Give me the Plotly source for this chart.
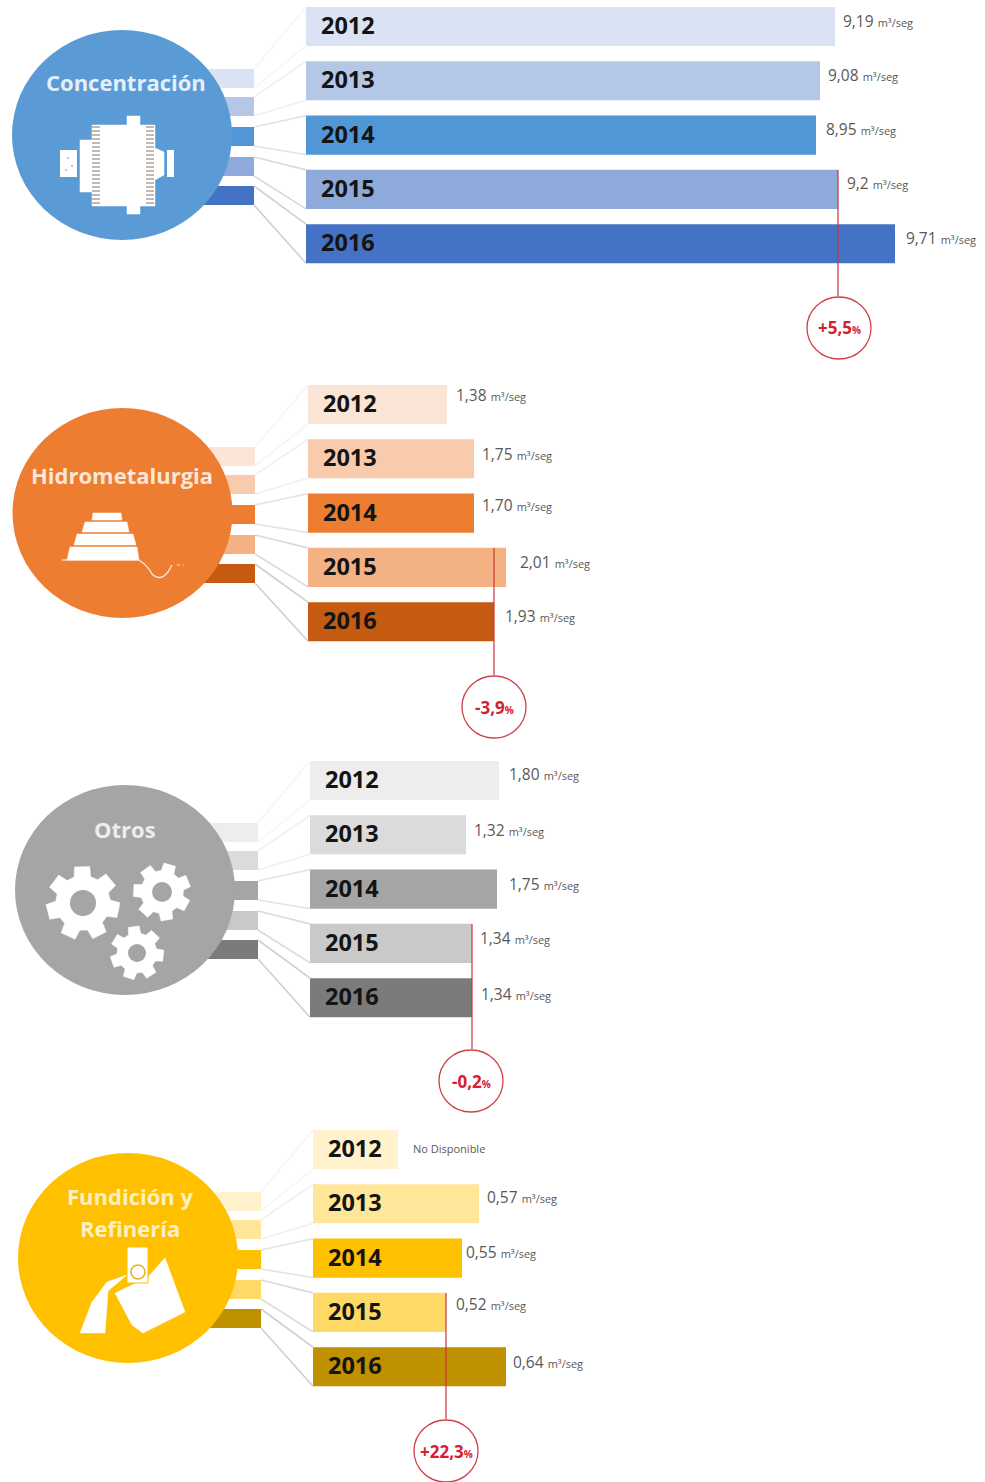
import math
import plotly.graph_objects as go

W, H = 985, 1482

# ---------- data ----------
years = ["2012", "2013", "2014", "2015", "2016"]
sections = ["Concentración", "Hidrometalurgia", "Otros", "Fundición y<br>Refinería"]

concentracion_labels = ["9,19", "9,08", "8,95", "9,2", "9,71"]
hidrometalurgia_labels = ["1,38", "1,75", "1,70", "2,01", "1,93"]
otros_labels = ["1,80", "1,32", "1,75", "1,34", "1,34"]
fundicion_labels = ["No Disponible", "0,57", "0,55", "0,52", "0,64"]

# bar lengths as drawn in the picture (the source bars are not to one scale)
concentracion_bars = [529, 514, 510, 532, 589]
hidrometalurgia_bars = [139, 166, 166, 198, 186]
otros_bars = [189, 156, 187, 162, 162]
fundicion_bars = [85, 166, 149, 133, 193]

changes = ["+5,5", "-3,9", "-0,2", "+22,3"]
callout_bar = [3, 4, 3, 3]  # which bar's end the red line marks

# ---------- styles and layout ----------
unit = "m³/seg"
palettes = [
    ["#DAE3F3", "#B4C7E7", "#5197D6", "#8EAADB", "#4472C4"],
    ["#FBE5D6", "#F8CBAD", "#ED7D31", "#F4B183", "#C55A11"],
    ["#EDEDED", "#DBDBDB", "#A5A5A5", "#C9C9C9", "#7B7B7B"],
    ["#FFF2CC", "#FFE699", "#FFC000", "#FFD966", "#BF9000"],
]
circle_colors = ["#5B9BD5", "#ED7D31", "#A5A5A5", "#FFC000"]
title_colors = ["#E3F0FB", "#FBE6D8", "#EDEDED", "#FFF0C4"]
bars = [concentracion_bars, hidrometalurgia_bars, otros_bars, fundicion_bars]
labels = [concentracion_labels, hidrometalurgia_labels, otros_labels, fundicion_labels]

left = [306, 308, 310, 313]
top = [7, 385, 761, 1130]
pitch, thick = 54.3, 39
stub_off = [62, 90, 120, 150, 179]
stub_h = 19
stub_right = [254, 255, 258, 261]
circles = [(122, 135), (122.5, 513), (125, 890), (128, 1258)]
title_pos = [(126, 82), (122, 475), (125, 829), (130, 1196)]
title_leading = 32
callouts = [(839, 328), (494, 707), (471, 1081), (446, 1451)]
line_tint = ["#F6F6F6", "#F0F0F0", "#E4E4E4", "#DADADA", "#CFCFCF"]
label_gap = [[6, 6, 8, 7, 9], [7, 6, 6, 12, 9], [8, 6, 10, 6, 7], [13, 6, 2, 8, 5]]
label_lift = [[6, 6, 6, 6, 6], [10, 5, 8, 5, 6], [6, 5, 5, 5, 4], [1, 7, 6, 8, 5]]
FONT = "Open Sans, Noto Sans, sans-serif"


def px(x):
    return x / W


def py(y):
    return 1 - y / H


def pshape(kind, x0, y0, x1, y1, **kw):
    return dict(type=kind, xref="paper", yref="paper", x0=px(x0), x1=px(x1),
                y0=py(y0), y1=py(y1), **kw)


def poly(pts, fill="white", line=None):
    d = "M" + "L".join(f"{px(x):.5f},{py(y):.5f}" for x, y in pts) + "Z"
    return dict(type="path", xref="paper", yref="paper", path=d, fillcolor=fill,
                line=dict(color=line or fill, width=0.5))


def gear(cx, cy, R, hole, teeth, phase, bg):
    pts = []
    step = 2 * math.pi / teeth
    r_in = R * 0.74
    for k in range(teeth):
        a = phase + k * step
        for da, r in ((-0.30, r_in), (-0.20, R), (0.20, R), (0.30, r_in)):
            t = a + da * step * 1.15
            pts.append((cx + r * math.cos(t), cy + r * math.sin(t)))
    return [poly(pts), pshape("circle", cx - hole, cy - hole, cx + hole, cy + hole,
                              fillcolor=bg, line=dict(width=0))]


fig = go.Figure()
shapes, annots = [], []
layout_axes = {}

for s in range(4):
    suffix = "" if s == 0 else str(s + 1)
    T = top[s]
    y_start = T - (pitch - thick) / 2
    y_end = y_start + pitch * 5
    clip = max(0, -y_start)
    fig.add_trace(go.Bar(
        x=bars[s], y=years, orientation="h", marker=dict(color=palettes[s], line=dict(width=0)),
        xaxis="x" + suffix, yaxis="y" + suffix, showlegend=False, hoverinfo="skip",
    ))
    layout_axes["xaxis" + suffix] = dict(
        domain=[px(left[s]), 1], range=[0, W - left[s]], visible=False,
        anchor="y" + suffix, fixedrange=True)
    layout_axes["yaxis" + suffix] = dict(
        domain=[py(y_end), py(y_start + clip)], range=[4.5, -0.5 + clip / pitch], type="category",
        categoryorder="array", categoryarray=years, visible=False,
        anchor="x" + suffix, fixedrange=True)

    # stubs and connectors
    for i in range(5):
        st = T + stub_off[i]
        shapes.append(pshape("rect", stub_right[s] - 60, st, stub_right[s], st + stub_h,
                             fillcolor=palettes[s][i], line=dict(width=0), layer="below"))
        bt = T + pitch * i
        for a, b in ((st, bt), (st + stub_h, bt + thick)):
            shapes.append(pshape("line", stub_right[s], a, left[s], b,
                                 line=dict(color=line_tint[i], width=1.6), layer="below"))
    cx, cy = circles[s]
    shapes.append(pshape("circle", cx - 110, cy - 105, cx + 110, cy + 105,
                         fillcolor=circle_colors[s], line=dict(width=0), layer="below"))

    # section title
    tx, ty = title_pos[s]
    for n, part in enumerate(sections[s].split("<br>")):
        annots.append(dict(xref="paper", yref="paper", x=px(tx), y=py(ty + n * title_leading),
                           text=f"<b>{part}</b>", showarrow=False, xanchor="center", yanchor="middle",
                           font=dict(family=FONT, size=22, color=title_colors[s])))

    # year and value labels (y given as category index: the year strings look numeric)
    for i, yr in enumerate(years):
        annots.append(dict(xref="x" + suffix, yref="y" + suffix, x=0, y=i, xshift=13, yshift=1.5,
                           text=f"<b>{yr}</b>", showarrow=False, xanchor="left", yanchor="middle",
                           font=dict(family=FONT, size=23.5, color="#141414")))
        lab = labels[s][i]
        if lab == "No Disponible":
            txt, size = lab, 11
        else:
            txt, size = f"{lab} <span style='font-size:11px'>{unit}</span>", 15.5
        annots.append(dict(xref="x" + suffix, yref="y" + suffix, x=bars[s][i], y=i,
                           xshift=label_gap[s][i], yshift=label_lift[s][i], text=txt,
                           showarrow=False, xanchor="left", yanchor="middle",
                           font=dict(family=FONT, size=size, color="#595959")))

    # callout: line drops through the 2015 row to the circle
    ccx, ccy = callouts[s]
    lx = bars[s][callout_bar[s]]
    shapes.append(dict(type="line", xref="x" + suffix, yref="paper",
                       x0=lx, x1=lx, y0=py(T + pitch * 3), y1=py(ccy - 32),
                       line=dict(color="#C8343F", width=1.2)))
    shapes.append(pshape("circle", ccx - 32, ccy - 31, ccx + 32, ccy + 31, fillcolor="white",
                         line=dict(color="#D0404A", width=1.3)))
    annots.append(dict(xref="paper", yref="paper", x=px(ccx), y=py(ccy),
                       text=f"<b>{changes[s]}<span style='font-size:10px'>%</span></b>",
                       showarrow=False, xanchor="center", yanchor="middle",
                       font=dict(family=FONT, size=17, color="#D6202F")))

# ---------- icons ----------
# mill
shapes.append(pshape("rect", 60, 150, 77, 177, fillcolor="white", line=dict(width=0)))
shapes.append(pshape("rect", 167, 150, 174, 177, fillcolor="white", line=dict(width=0)))
shapes.append(poly([(127, 116), (140, 116), (140, 125), (155, 125), (155, 148), (164, 152), (164, 175),
                    (155, 180), (155, 206), (140, 206), (140, 214), (127, 214), (127, 206), (92, 206),
                    (92, 192), (80, 192), (80, 140), (92, 140), (92, 125), (127, 125)]))
for xx in (96, 150):
    shapes.append(pshape("line", xx, 126, xx, 206, line=dict(color="#C4B9B0", width=8, dash="2px,2px")))
for xx, yy in ((68, 158), (72, 166), (66, 170)):
    shapes.append(pshape("circle", xx - 1, yy - 1, xx + 1, yy + 1, fillcolor="#8FB8DE", line=dict(width=0)))

# heap leach
for a, b, c, d, y0, y1 in ((93, 121, 92, 122, 513, 520), (85, 127, 82, 129, 522, 532),
                           (77, 133, 74, 136, 534, 545), (70, 137, 67, 139, 547, 560)):
    shapes.append(poly([(a, y0), (b, y0), (d, y1), (c, y1)]))
shapes.append(pshape("line", 62, 560, 139, 560, line=dict(color="white", width=1.2)))
shapes.append(dict(type="path", xref="paper", yref="paper", line=dict(color="#FDE3CE", width=1.4),
                   path=f"M{px(139)},{py(560)} Q{px(148)},{py(566)} {px(152)},{py(574)} "
                        f"Q{px(160)},{py(582)} {px(168)},{py(572)} L{px(172)},{py(565)}"))
shapes.append(pshape("line", 177, 565, 184, 565, line=dict(color="#FDE3CE", width=1.2, dash="dot")))

# gears
shapes += gear(83, 903, 37, 13, 7, 0.2, "#A5A5A5")
shapes += gear(162, 892, 29, 10, 7, 0.5, "#A5A5A5")
shapes += gear(137, 953, 27, 9, 7, 0.1, "#A5A5A5")

# ladle
shapes.append(poly([(80, 1333), (92, 1302), (107, 1282), (127, 1275), (108, 1291), (105, 1333)]))
shapes.append(poly([(115, 1293), (147, 1278), (165, 1258), (185, 1312), (143, 1333), (132, 1325)]))
shapes.append(pshape("rect", 127, 1247, 148, 1283, fillcolor="white", line=dict(color="#FFC000", width=1)))
shapes.append(pshape("circle", 131, 1265, 145, 1279, fillcolor="white", line=dict(color="#E8B020", width=1.5)))

fig.update_layout(
    width=W, height=H, autosize=False, margin=dict(l=0, r=0, t=0, b=0, pad=0),
    paper_bgcolor="white", plot_bgcolor="rgba(0,0,0,0)", bargap=0.28, barmode="overlay",
    shapes=shapes, annotations=annots, font=dict(family=FONT), showlegend=False,
    **layout_axes,
)
fig.write_html("out.html", config={"displayModeBar": False},
               post_script="document.body.style.margin='0';document.body.style.overflow='hidden';")
